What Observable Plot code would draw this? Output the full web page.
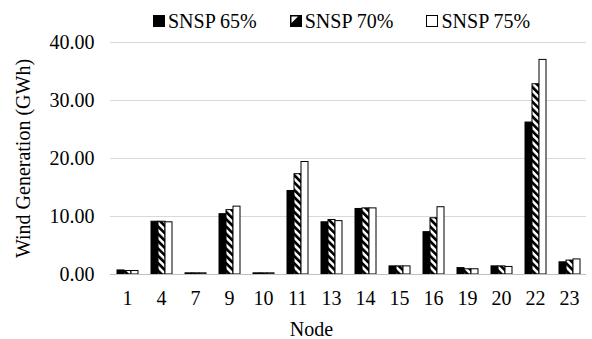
<!DOCTYPE html>
<html>
<head>
<meta charset="utf-8">
<script src="https://cdn.jsdelivr.net/npm/d3@7"></script>
<script src="https://cdn.jsdelivr.net/npm/@observablehq/plot@0.6"></script>
<style>
  html, body { margin: 0; padding: 0; background: #fff; }
  #wrap { position: relative; width: 592px; height: 339px; font-family: 'Liberation Serif', 'Times New Roman', serif; color: #000; }
  #legend { position: absolute; top: 9px; left: 153px; display: flex; gap: 33px; font-size: 20px; line-height: 24px; white-space: nowrap; }
  #legend .item { display: flex; align-items: center; gap: 3px; }
  #legend svg { display: block; }
  #xlabel { position: absolute; top: 318px; left: 0; width: 623px; text-align: center; font-size: 20px; line-height: 22px; }
  #chart { position: absolute; top: 0; left: 0; }
  #chart svg, #chart svg text { font-family: 'Liberation Serif', 'Times New Roman', serif !important; }
</style>
</head>
<body>
<div id="wrap">
  <div id="chart"></div>
  <div id="legend"></div>
  <div id="xlabel">Node</div>
</div>
<script>
const nodes = ["1", "4", "7", "9", "10", "11", "13", "14", "15", "16", "19", "20", "22", "23"];
const seriesNames = ["SNSP 65%", "SNSP 70%", "SNSP 75%"];
const snsp65 = [0.7, 9.1, 0.2, 10.4, 0.2, 14.4, 9.0, 11.3, 1.4, 7.3, 1.1, 1.4, 26.2, 2.1];
const snsp70 = [0.6, 9.1, 0.2, 11.1, 0.2, 17.3, 9.4, 11.4, 1.4, 9.7, 0.9, 1.4, 32.8, 2.4];
const snsp75 = [0.6, 9.0, 0.2, 11.7, 0.2, 19.4, 9.2, 11.4, 1.4, 11.6, 0.9, 1.3, 37.0, 2.6];
const yTicks = [0, 10, 20, 30, 40];
const yLabel = "Wind Generation (GWh)";

const seriesValues = [snsp65, snsp70, snsp75];
const table = [];
nodes.forEach((n, i) => {
  seriesNames.forEach((s, j) => table.push({node: n, series: s, value: seriesValues[j][i]}));
});

const fills = ["black", "url(#hatch)", "white"];

const chart = Plot.plot({
  width: 592,
  height: 339,
  marginTop: 42,
  marginBottom: 65,
  marginLeft: 104,
  marginRight: 0,
  style: {fontFamily: "'Liberation Serif', 'Times New Roman', serif", fontSize: "20px", color: "#000", background: "white"},
  fx: {domain: nodes, padding: 0, label: null, axis: null},
  x: {domain: seriesNames, paddingInner: 0.04, paddingOuter: 0.66, axis: null},
  y: {domain: [0, 40], ticks: yTicks, label: yLabel},
  color: {domain: seriesNames, range: fills},
  marks: [
    Plot.gridY(yTicks, {stroke: "#d9d9d9", strokeOpacity: 1, strokeWidth: 1}),
    Plot.axisY(yTicks, {tickFormat: d3.format(".2f"), tickSize: 0, tickPadding: 16, label: yLabel, labelAnchor: "center", labelArrow: "none", labelOffset: 95}),
    Plot.axisFx({anchor: "bottom", tickSize: 0, tickPadding: 16, label: null}),
    Plot.barY(table, {fx: "node", x: "series", y: "value", fill: "series", stroke: "black", strokeWidth: 1}),
    Plot.ruleY([0], {stroke: "#bfbfbf", strokeWidth: 1})
  ]
});

const defs = d3.select(chart).insert("defs", ":first-child");
const pat = defs.append("pattern")
  .attr("id", "hatch")
  .attr("patternUnits", "userSpaceOnUse")
  .attr("width", 5.2)
  .attr("height", 5.2)
  .attr("patternTransform", "rotate(-45)");
pat.append("rect").attr("width", 5.2).attr("height", 5.2).attr("fill", "white");
pat.append("rect").attr("width", 2.7).attr("height", 5.2).attr("fill", "black");

document.getElementById("chart").appendChild(chart);

// legend
const legend = d3.select("#legend");
seriesNames.forEach((s, j) => {
  const item = legend.append("div").attr("class", "item");
  const sv = item.append("svg").attr("width", 12).attr("height", 12);
  if (j === 0) {
    sv.append("rect").attr("x", 0).attr("y", 0).attr("width", 12).attr("height", 12).attr("fill", "black");
  } else if (j === 1) {
    sv.append("rect").attr("x", 0.5).attr("y", 0.5).attr("width", 11).attr("height", 11).attr("fill", "black").attr("stroke", "black");
    sv.append("polygon").attr("points", "1.5,1.5 8,1.5 1.5,8").attr("fill", "white");
  } else {
    sv.append("rect").attr("x", 0.5).attr("y", 0.5).attr("width", 11).attr("height", 11).attr("fill", "white").attr("stroke", "black");
  }
  item.append("span").text(s);
});
</script>
</body>
</html>
